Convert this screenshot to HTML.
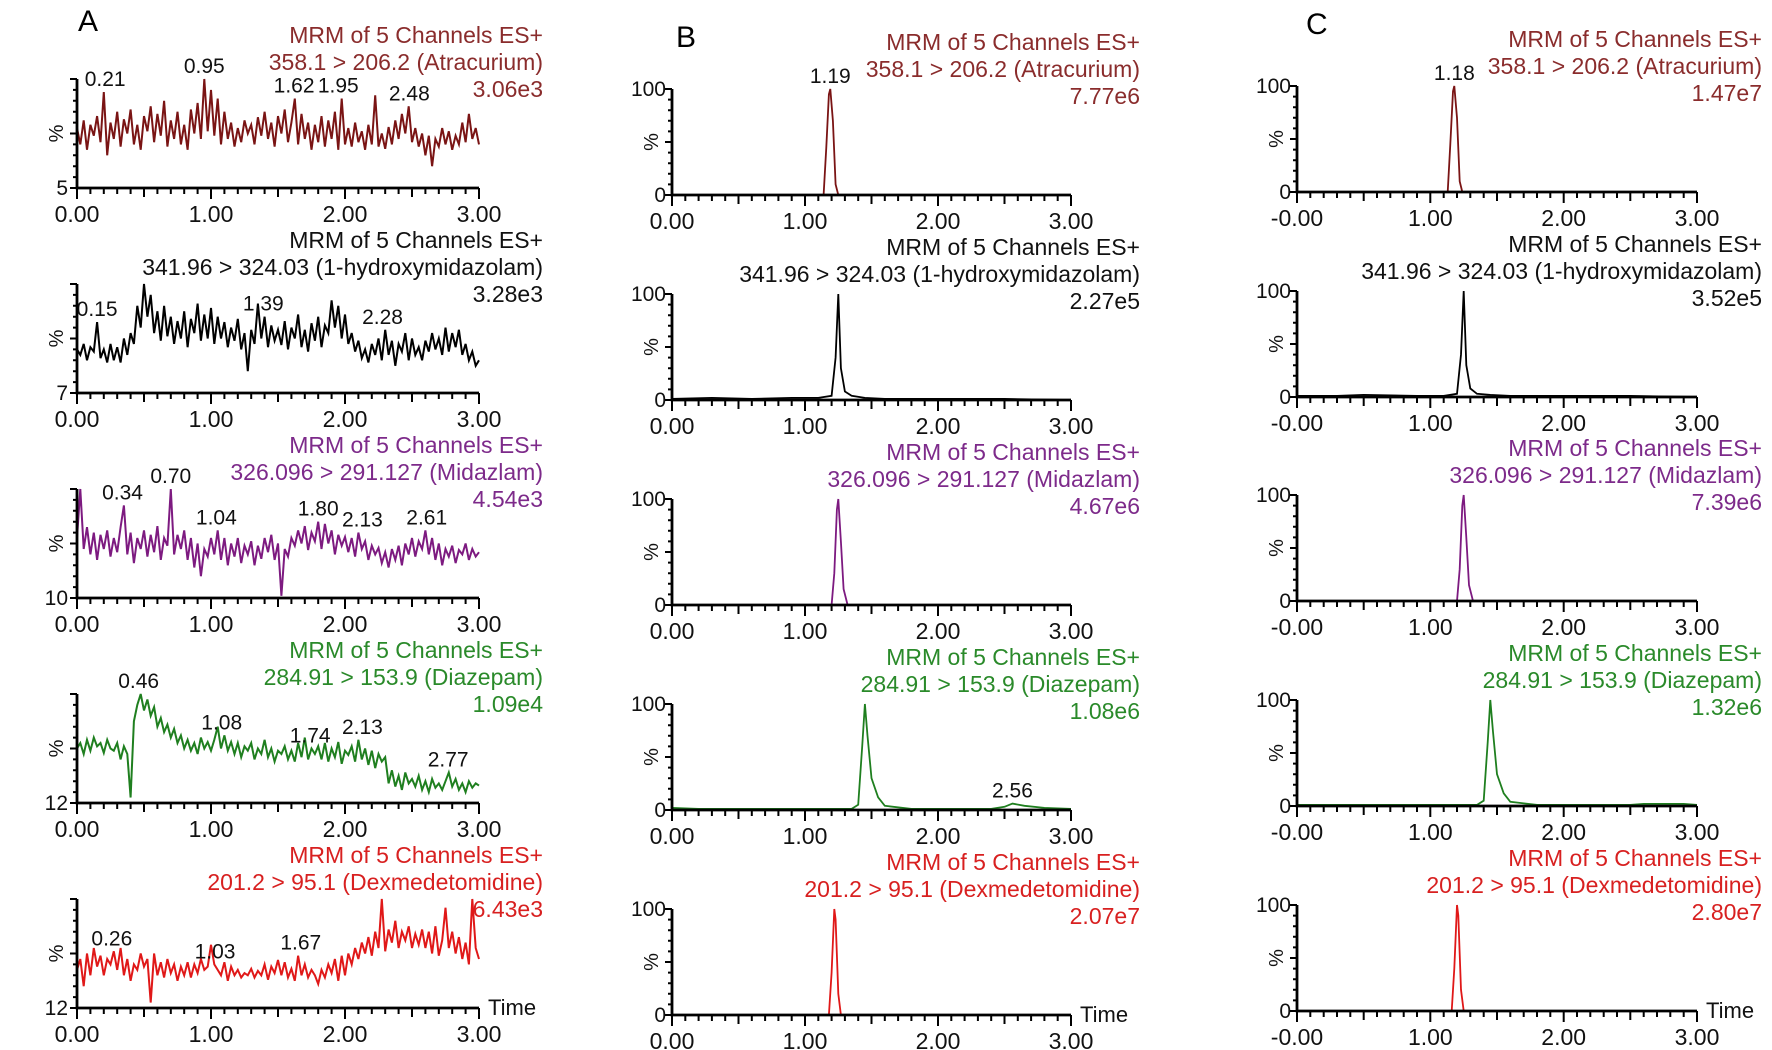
<!DOCTYPE html>
<html><head><meta charset="utf-8"><style>
html,body{margin:0;padding:0;background:#fff;}
svg{display:block;font-family:"Liberation Sans",Arial,sans-serif;}
</style></head><body>
<svg id="chart" width="1772" height="1050" viewBox="0 0 1772 1050" xmlns="http://www.w3.org/2000/svg">
<text x="78" y="31" font-size="30">A</text>
<text x="676" y="47" font-size="30">B</text>
<text x="1306" y="34" font-size="30">C</text>
</svg>
<script>
const channels=['(Atracurium)','(1-hydroxymidazolam)','(Midazlam)','(Diazepam)','(Dexmedetomidine)'];
const transitions=['358.1 > 206.2','341.96 > 324.03','326.096 > 291.127','284.91 > 153.9','201.2 > 95.1'];
const intensA=['3.06e3','3.28e3','4.54e3','1.09e4','6.43e3'];
const intensB=['7.77e6','2.27e5','4.67e6','1.08e6','2.07e7'];
const intensC=['1.47e7','3.52e5','7.39e6','1.32e6','2.80e7'];
const yMinA=['5','7','10','12','12'];
const xTicksAB=['0.00','1.00','2.00','3.00'];
const xTicksC=['-0.00','1.00','2.00','3.00'];
const colors=['#7a1414','#000000','#7d1a80','#1f7f1f','#e01818'];
const textColors=['#8a2c2c','#111111','#7d2a8a','#2a8a2a','#d82020'];

const seriesA1=[55,40,62,35,58,48,66,42,88,30,60,45,70,38,63,50,72,40,58,35,66,52,75,42,68,48,80,38,62,45,70,40,58,35,72,50,78,45,100,52,90,48,82,40,70,45,60,38,55,42,62,50,58,40,65,48,70,45,60,38,66,50,72,42,60,82,40,68,45,60,35,58,42,66,38,62,45,70,35,82,40,55,38,60,42,52,35,58,40,85,38,50,36,56,40,62,45,68,50,75,42,55,38,50,30,48,20,45,38,55,40,52,35,48,40,60,42,68,45,55,40];
const seriesA2=[40,35,45,30,42,38,65,32,40,28,45,30,42,28,50,35,55,45,80,60,100,70,90,55,75,48,80,52,70,45,66,50,75,42,68,55,82,48,72,50,78,45,70,50,65,42,60,48,68,40,55,20,58,45,82,50,70,42,62,48,58,44,66,40,60,50,72,42,58,38,64,48,70,42,62,55,85,60,80,50,72,45,55,38,48,32,40,28,45,35,50,30,58,35,48,25,45,38,55,30,50,35,42,30,48,38,55,40,50,35,60,38,55,42,58,35,45,30,38,25,30];
const seriesA3=[55,100,45,65,40,60,35,58,45,62,38,55,42,65,85,40,60,32,55,45,62,38,58,42,66,35,55,48,100,40,58,45,62,35,55,28,50,20,45,38,55,40,62,35,55,30,50,38,55,32,48,40,52,30,48,36,55,42,58,35,50,2,45,38,55,48,62,50,66,44,60,52,70,45,68,50,62,40,58,48,56,42,55,38,60,45,52,35,48,40,46,32,42,28,45,35,48,30,50,40,55,38,52,45,62,40,55,35,50,30,45,38,48,32,44,40,50,35,45,38,42];
const seriesA4=[50,55,45,58,48,60,52,55,46,58,50,48,55,40,52,45,5,75,90,100,85,95,80,88,70,78,65,72,60,68,55,62,50,58,48,55,45,60,50,56,48,58,70,50,62,48,56,45,55,42,52,48,55,40,50,45,58,42,50,38,48,45,52,40,48,38,55,42,60,40,50,45,52,40,55,38,50,42,56,36,48,44,52,38,58,40,50,35,48,32,45,38,42,18,30,15,25,12,28,18,22,15,25,12,20,10,22,14,18,12,20,28,15,22,12,18,10,20,14,18,16];
const seriesA5=[35,45,20,50,30,55,38,48,30,45,40,52,35,55,30,45,25,40,35,50,38,45,5,50,30,42,28,45,32,40,25,38,30,42,28,40,32,45,35,38,58,40,35,30,42,25,38,30,35,28,32,30,36,28,34,30,40,26,38,32,44,30,42,28,36,25,48,30,40,28,35,30,22,35,28,40,32,45,25,48,30,50,40,55,45,60,50,65,48,70,55,100,52,72,60,80,55,70,62,75,55,68,58,72,55,70,50,75,48,62,92,55,70,50,65,45,60,40,100,55,45];
const seriesA=[seriesA1,seriesA2,seriesA3,seriesA4,seriesA5];
const peakLabelsA=[[0.21,0.95,1.62,1.95,2.48],[0.15,1.39,2.28],[0.34,0.70,1.04,1.80,2.13,2.61],[0.46,1.08,1.74,2.13,2.77],[0.26,1.03,1.67]];

const timesB1=[0,1.14,1.16,1.18,1.19,1.21,1.23,1.25,3];
const valuesB1=[0,0,45,95,100,70,10,0,0];
const timesB2=[0,0.3,0.6,0.9,1.1,1.2,1.23,1.25,1.27,1.3,1.35,1.45,1.6,2.0,2.5,3];
const valuesB2=[1,2,1,2,2,4,40,100,30,8,4,2,1,1,1,0];
const timesB3=[0,1.2,1.22,1.24,1.25,1.27,1.29,1.32,3];
const valuesB3=[0,0,30,90,100,60,15,0,0];
const timesB4=[0,0.2,0.6,1.0,1.35,1.4,1.43,1.45,1.47,1.5,1.55,1.6,1.8,2.4,2.5,2.56,2.65,2.8,3];
const valuesB4=[2,1,1,1,1,5,60,100,70,30,12,4,1,1,3,6,4,2,1];
const timesB5=[0,1.18,1.2,1.22,1.23,1.25,1.27,3];
const valuesB5=[0,0,40,100,90,20,0,0];
const timesC1=[0,1.13,1.15,1.17,1.18,1.2,1.22,1.24,3];
const valuesC1=[0,0,45,95,100,70,10,0,0];
const timesC2=[0,0.3,0.5,0.9,1.1,1.2,1.23,1.25,1.27,1.3,1.35,1.45,1.6,2.0,2.5,3];
const valuesC2=[1,1,2,1,1,3,40,100,30,8,3,2,1,1,1,0];
const timesC3=[0,1.2,1.22,1.24,1.25,1.27,1.29,1.32,3];
const valuesC3=[0,0,30,90,100,60,15,0,0];
const timesC4=[0,0.6,1.0,1.35,1.4,1.43,1.45,1.47,1.5,1.55,1.6,1.8,2.5,2.6,2.9,3];
const valuesC4=[1,1,1,1,5,60,100,70,30,12,4,1,1,2,2,1];
const timesC5=[0,1.16,1.18,1.2,1.21,1.23,1.25,3];
const valuesC5=[0,0,40,100,90,20,0,0];
const tracesB=[[timesB1,valuesB1],[timesB2,valuesB2],[timesB3,valuesB3],[timesB4,valuesB4],[timesB5,valuesB5]];
const tracesC=[[timesC1,valuesC1],[timesC2,valuesC2],[timesC3,valuesC3],[timesC4,valuesC4],[timesC5,valuesC5]];
const peakLabelsB=[['1.19'],[],[],['2.56'],[]];
const peakLabelsC=[['1.18'],[],[],[],[]];

const svg=document.getElementById('chart');
const NS='http://www.w3.org/2000/svg';
function mk(tag,attrs,parent){const e=document.createElementNS(NS,tag);for(const k in attrs)e.setAttribute(k,attrs[k]);(parent||svg).appendChild(e);return e;}

const cols=[
 {key:'a',x0:77,x1:479,axisY:[188,393,598,803,1008],h:109,tr:543,ticks:xTicksAB,intens:intensA},
 {key:'b',x0:672,x1:1071,axisY:[195,400,605,810,1015],h:106,tr:1140,ticks:xTicksAB,intens:intensB},
 {key:'c',x0:1297,x1:1697,axisY:[192,397,601,806,1011],h:106,tr:1762,ticks:xTicksC,intens:intensC}
];

cols.forEach((c,ci)=>{
 const xs=t=>c.x0+(c.x1-c.x0)*t/3;
 for(let p=0;p<5;p++){
  const ay=c.axisY[p], top=ay-c.h;
  const ys=v=>ay-c.h*v/100;
  const g=mk('g',{});
  
  
  const lines=['MRM of 5 Channels ES+',transitions[p]+' '+channels[p],c.intens[p]];
  lines.forEach((s,i)=>{
   const t=mk('text',{x:c.tr,y:ay-145+i*27,'text-anchor':'end','font-size':23,fill:textColors[p]},g);
   
   
   t.textContent=s;
  });
  let pts=[];
  if(ci==0){const s=seriesA[p];s.forEach((v,i)=>pts.push(xs(i*3/(s.length-1)).toFixed(1)+','+ys(v).toFixed(1)));}
  else{const tr=(ci==1?tracesB:tracesC)[p];tr[0].forEach((t,i)=>pts.push(xs(t).toFixed(1)+','+ys(tr[1][i]).toFixed(1)));}
  const pl=mk('polyline',{points:pts.join(' '),fill:'none',stroke:colors[p],'stroke-width':ci==0?2:1.8},g);
  
  
  if(ci==0){
   const s=seriesA[p];
   peakLabelsA[p].forEach(t=>{
    let m=0;s.forEach((v,i)=>{const ti=i*3/(s.length-1);if(Math.abs(ti-t)<=0.03&&v>m)m=v;});
    const tx=mk('text',{x:xs(t),y:ys(m)-6,'text-anchor':'middle','font-size':21,fill:'#111'},g);
    
    
    tx.textContent=t.toFixed(2);
   });
  } else {
   const tr=(ci==1?tracesB:tracesC)[p];
   (ci==1?peakLabelsB:peakLabelsC)[p].forEach(lab=>{
    const t=parseFloat(lab);let m=0;tr[0].forEach((ti,i)=>{if(Math.abs(ti-t)<=0.05&&tr[1][i]>m)m=tr[1][i];});
    const tx=mk('text',{x:xs(t),y:ys(m)-6,'text-anchor':'middle','font-size':21,fill:'#111'},g);
    
    
    tx.textContent=lab;
   });
  }
  const ax=mk('path',{d:`M${c.x0},${top} V${ay} H${c.x1}`,fill:'none',stroke:'#000','stroke-width':2.8},g);
  
  
  let d='';
  for(let k=0;k<=30;k++){const x=xs(k/10);const L=k%10==0?11:(k%5==0?9:6);d+=`M${x.toFixed(1)},${ay} v${L} `;}
  for(let k=0;k<=10;k++){const y=ay-c.h*k/10;const L=k%5==0?7:4;d+=`M${c.x0},${y.toFixed(1)} h-${L} `;}
  const tk=mk('path',{d:d,stroke:'#000','stroke-width':2,fill:'none'},g);
  
  
  c.ticks.forEach((lab,i)=>{
   const tx=mk('text',{x:xs(i),y:ay+34,'text-anchor':'middle','font-size':23,fill:'#111'},g);
   
   
   tx.textContent=lab;
  });
  const pc=mk('text',{x:0,y:0,'text-anchor':'middle','font-size':20,fill:'#111',transform:`translate(${c.x0-14},${ay-c.h/2}) rotate(-90)`},g);
  
  
  pc.textContent='%';
  if(ci==0){
   const yl=mk('text',{x:c.x0-9,y:ay+7,'text-anchor':'end','font-size':21,fill:'#111'},g);
   
   
   yl.textContent=yMinA[p];
  } else {
   const y1=mk('text',{x:c.x0-6,y:top+7,'text-anchor':'end','font-size':21,fill:'#111'},g);
   
   
   y1.textContent='100';
   const y0=mk('text',{x:c.x0-6,y:ay+7,'text-anchor':'end','font-size':21,fill:'#111'},g);
   
   
   y0.textContent='0';
  }
  if(p==4){
   const tt=mk('text',{x:c.x1+9,y:ay+7,'font-size':22,fill:'#111'},g);
   
   
   tt.textContent='Time';
  }
 }
});
</script>
</body></html>
